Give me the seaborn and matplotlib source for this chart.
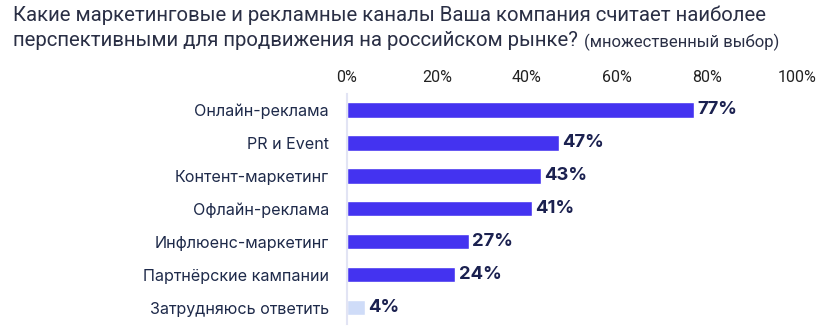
import matplotlib
matplotlib.use("Agg")
import matplotlib.pyplot as plt
import seaborn as sns
import pandas as pd
from matplotlib import font_manager as fm

categories = ["Онлайн-реклама", "PR и Event", "Контент-маркетинг", "Офлайн-реклама",
              "Инфлюенс-маркетинг", "Партнёрские кампании", "Затрудняюсь ответить"]
values = [77, 47, 43, 41, 27, 24, 4]
tick_values = [0, 20, 40, 60, 80, 100]
tick_labels = ["0%", "20%", "40%", "60%", "80%", "100%"]

names = {f.name for f in fm.fontManager.ttflist}
narrow = "Liberation Sans Narrow" if "Liberation Sans Narrow" in names else "Roboto"

sns.set_theme(style="white")
plt.rcParams['font.family'] = ['Inter', 'DejaVu Sans']

df = pd.DataFrame({"cat": categories, "val": values})
colors = ["#4433f0"] * 6 + ["#cfdcf8"]

fig = plt.figure(figsize=(8.18, 3.28), dpi=100)
ax = fig.add_axes([347/818, 1 - 324/328, 450/818, (324 - 93.5)/328])
sns.barplot(data=df, x="val", y="cat", hue="cat", palette=colors, legend=False,
            width=0.47, saturation=1, ax=ax, orient="h")
ax.set_xlim(0, 100)
ax.set_ylim(6.5, -0.5)
ax.xaxis.tick_top()
ax.set_xticks(tick_values)
ax.set_xticklabels(tick_labels, family=narrow, fontsize=11.5, color="#222222")
ax.tick_params(axis="x", length=0, pad=6)
ax.tick_params(axis="y", length=0, pad=13)
for lab in ax.get_yticklabels():
    lab.set_fontsize(11.6)
    lab.set_color("#1e2a4a")
ax.set_xlabel("")
ax.set_ylabel("")
for s in ["top", "right", "bottom"]:
    ax.spines[s].set_visible(False)
ax.spines["left"].set_color("#e2e4f4")
ax.spines["left"].set_linewidth(1.5)

for i, v in enumerate(values):
    ax.text(v + 0.8, i, f"{v}%", va="center", ha="left", fontsize=13.3,
            fontweight="bold", color="#1b2150")

fig.text(13/818, 1 - 15/328, "Какие маркетинговые и рекламные каналы Ваша компания считает наиболее",
         family=narrow, fontsize=14.7, color="#2a2f45", va="center", ha="left")
t_line2 = fig.text(13/818, 1 - 41/328, "перспективными для продвижения на российском рынке?",
         family=narrow, fontsize=14.7, color="#2a2f45", va="center", ha="left")

fig.canvas.draw()
r = fig.canvas.get_renderer()
bb = t_line2.get_window_extent(r)
fig.text((bb.x1 + 6)/818, 1 - 42/328, "(множественный выбор)", family=narrow,
         fontsize=12, color="#2a2f45", va="center", ha="left")

fig.savefig("out.png", dpi=100)
